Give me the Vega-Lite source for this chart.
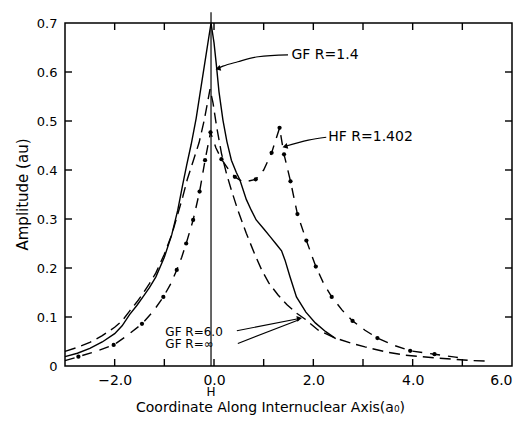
{
  "$schema": "https://vega.github.io/schema/vega-lite/v6.json",
  "width": 447,
  "height": 343,
  "autosize": "none",
  "padding": {"left": 65, "top": 23, "right": 13, "bottom": 57},
  "background": "white",
  "config": {
    "view": {"stroke": "black", "strokeWidth": 1.5},
    "axis": {"grid": false, "domain": false, "ticks": false, "labelColor": "black", "titleColor": "black", "labelFont": "DejaVu Sans", "titleFont": "DejaVu Sans", "titleFontWeight": "normal"},
    "text": {"font": "DejaVu Sans", "fontSize": 14, "color": "black"}
  },
  "datasets": {
    "gf14": [
      {"x": -3.0, "y": 0.019}, {"x": -2.75, "y": 0.026}, {"x": -2.5, "y": 0.036}, {"x": -2.25, "y": 0.049},
      {"x": -2.0, "y": 0.066}, {"x": -1.85, "y": 0.082}, {"x": -1.7, "y": 0.105}, {"x": -1.55, "y": 0.124},
      {"x": -1.43, "y": 0.141}, {"x": -1.3, "y": 0.16}, {"x": -1.17, "y": 0.182}, {"x": -1.0, "y": 0.222},
      {"x": -0.85, "y": 0.268}, {"x": -0.73, "y": 0.318}, {"x": -0.63, "y": 0.37}, {"x": -0.55, "y": 0.41},
      {"x": -0.46, "y": 0.452}, {"x": -0.36, "y": 0.505}, {"x": -0.26, "y": 0.57}, {"x": -0.16, "y": 0.635},
      {"x": -0.06, "y": 0.7}, {"x": 0.0, "y": 0.66}, {"x": 0.05, "y": 0.612}, {"x": 0.1, "y": 0.56},
      {"x": 0.18, "y": 0.502}, {"x": 0.26, "y": 0.458}, {"x": 0.35, "y": 0.42}, {"x": 0.45, "y": 0.395},
      {"x": 0.52, "y": 0.38}, {"x": 0.65, "y": 0.34}, {"x": 0.75, "y": 0.318}, {"x": 0.85, "y": 0.298},
      {"x": 1.0, "y": 0.28}, {"x": 1.13, "y": 0.264}, {"x": 1.25, "y": 0.249}, {"x": 1.36, "y": 0.235},
      {"x": 1.43, "y": 0.216}, {"x": 1.53, "y": 0.182}, {"x": 1.66, "y": 0.141}, {"x": 1.85, "y": 0.11},
      {"x": 2.04, "y": 0.088}, {"x": 2.25, "y": 0.07}, {"x": 2.45, "y": 0.056}
    ],
    "gf60": [
      {"x": -3.0, "y": 0.03}, {"x": -2.75, "y": 0.038}, {"x": -2.5, "y": 0.048}, {"x": -2.25, "y": 0.062},
      {"x": -2.0, "y": 0.079}, {"x": -1.85, "y": 0.092}, {"x": -1.7, "y": 0.112}, {"x": -1.55, "y": 0.131},
      {"x": -1.43, "y": 0.148}, {"x": -1.3, "y": 0.168}, {"x": -1.17, "y": 0.19}, {"x": -1.0, "y": 0.228},
      {"x": -0.85, "y": 0.268}, {"x": -0.73, "y": 0.31}, {"x": -0.63, "y": 0.345}, {"x": -0.54, "y": 0.38},
      {"x": -0.42, "y": 0.418}, {"x": -0.3, "y": 0.456}, {"x": -0.2, "y": 0.5}, {"x": -0.08, "y": 0.565},
      {"x": -0.02, "y": 0.537}, {"x": 0.05, "y": 0.49}, {"x": 0.15, "y": 0.434}, {"x": 0.25, "y": 0.393},
      {"x": 0.35, "y": 0.359}, {"x": 0.48, "y": 0.318}, {"x": 0.65, "y": 0.271}, {"x": 0.82, "y": 0.228},
      {"x": 0.96, "y": 0.196}, {"x": 1.1, "y": 0.17}, {"x": 1.29, "y": 0.145}, {"x": 1.47, "y": 0.125},
      {"x": 1.66, "y": 0.108}, {"x": 1.83, "y": 0.096}, {"x": 2.1, "y": 0.073}, {"x": 2.44, "y": 0.057},
      {"x": 2.75, "y": 0.047}, {"x": 3.04, "y": 0.039}, {"x": 3.45, "y": 0.029}, {"x": 3.85, "y": 0.022},
      {"x": 4.2, "y": 0.019}, {"x": 4.52, "y": 0.016}, {"x": 5.2, "y": 0.011}, {"x": 5.5, "y": 0.01}
    ],
    "hf": [
      {"x": -3.0, "y": 0.011}, {"x": -2.73, "y": 0.019}, {"x": -2.4, "y": 0.029}, {"x": -2.02, "y": 0.043},
      {"x": -1.75, "y": 0.062}, {"x": -1.45, "y": 0.086}, {"x": -1.22, "y": 0.112}, {"x": -1.02, "y": 0.141},
      {"x": -0.88, "y": 0.166}, {"x": -0.75, "y": 0.196}, {"x": -0.65, "y": 0.222}, {"x": -0.56, "y": 0.25},
      {"x": -0.42, "y": 0.298}, {"x": -0.29, "y": 0.356}, {"x": -0.18, "y": 0.42}, {"x": -0.07, "y": 0.477},
      {"x": 0.04, "y": 0.445}, {"x": 0.15, "y": 0.422}, {"x": 0.3, "y": 0.4}, {"x": 0.42, "y": 0.386},
      {"x": 0.59, "y": 0.375}, {"x": 0.84, "y": 0.381}, {"x": 1.0, "y": 0.4}, {"x": 1.16, "y": 0.435},
      {"x": 1.32, "y": 0.486}, {"x": 1.41, "y": 0.432}, {"x": 1.54, "y": 0.377}, {"x": 1.68, "y": 0.31},
      {"x": 1.86, "y": 0.256}, {"x": 2.05, "y": 0.203}, {"x": 2.2, "y": 0.17}, {"x": 2.37, "y": 0.141},
      {"x": 2.58, "y": 0.114}, {"x": 2.79, "y": 0.092}, {"x": 3.04, "y": 0.073}, {"x": 3.29, "y": 0.057},
      {"x": 3.6, "y": 0.043}, {"x": 3.95, "y": 0.031}, {"x": 4.44, "y": 0.024}, {"x": 4.86, "y": 0.018},
      {"x": 5.0, "y": 0.016}
    ],
    "hfdots": [
      {"x": -2.73, "y": 0.019}, {"x": -2.02, "y": 0.043}, {"x": -1.45, "y": 0.086}, {"x": -1.02, "y": 0.141},
      {"x": -0.75, "y": 0.196}, {"x": -0.56, "y": 0.25}, {"x": -0.42, "y": 0.298}, {"x": -0.29, "y": 0.356},
      {"x": -0.18, "y": 0.42}, {"x": -0.07, "y": 0.477}, {"x": 0.15, "y": 0.422}, {"x": 0.42, "y": 0.386},
      {"x": 0.84, "y": 0.381}, {"x": 1.16, "y": 0.435}, {"x": 1.32, "y": 0.486}, {"x": 1.41, "y": 0.432},
      {"x": 1.54, "y": 0.377}, {"x": 1.68, "y": 0.31}, {"x": 1.86, "y": 0.256}, {"x": 2.05, "y": 0.203},
      {"x": 2.37, "y": 0.141}, {"x": 2.79, "y": 0.092}, {"x": 3.29, "y": 0.057}, {"x": 3.95, "y": 0.031},
      {"x": 4.44, "y": 0.024}
    ],
    "arrows": [
      {"id": "a14", "i": 0, "x": 1.49, "y": 0.635}, {"id": "a14", "i": 1, "x": 0.89, "y": 0.631},
      {"id": "a14", "i": 2, "x": 0.48, "y": 0.621}, {"id": "a14", "i": 3, "x": 0.18, "y": 0.612},
      {"id": "a14", "i": 4, "x": 0.07, "y": 0.607},
      {"id": "ahf", "i": 0, "x": 2.26, "y": 0.467}, {"id": "ahf", "i": 1, "x": 1.9, "y": 0.461},
      {"id": "ahf", "i": 2, "x": 1.42, "y": 0.448},
      {"id": "a60", "i": 0, "x": 0.46, "y": 0.072}, {"id": "a60", "i": 1, "x": 1.72, "y": 0.097},
      {"id": "ainf", "i": 0, "x": 0.48, "y": 0.046}, {"id": "ainf", "i": 1, "x": 1.7, "y": 0.094}
    ],
    "headsLeft": [{"x": 0.08, "y": 0.607}, {"x": 1.43, "y": 0.448}],
    "headsRight": [{"x": 1.72, "y": 0.097}],
    "notes": [
      {"x": 1.56, "y": 0.635, "label": "GF R=1.4"},
      {"x": 2.3, "y": 0.467, "label": "HF R=1.402"}
    ],
    "notesSmall": [
      {"x": -0.98, "y": 0.070, "label": "GF R=6.0"},
      {"x": -0.98, "y": 0.044, "label": "GF R=∞"}
    ],
    "atom": [{"x": -0.06, "y": -0.054, "label": "H"}],
    "vline": [{"x": -0.06, "y": 0, "y2": 0.722}],
    "xticks": [{"v": -2}, {"v": -1}, {"v": 0}, {"v": 1}, {"v": 2}, {"v": 3}, {"v": 4}, {"v": 5}],
    "yticks": [{"v": 0.1}, {"v": 0.2}, {"v": 0.3}, {"v": 0.4}, {"v": 0.5}, {"v": 0.6}]
  },
  "layer": [
    {
      "data": {"name": "gf14"},
      "mark": {"type": "line", "color": "black", "strokeWidth": 1.4},
      "encoding": {
        "x": {"field": "x", "type": "quantitative", "scale": {"domain": [-3, 6], "nice": false, "zero": false},
          "axis": {"orient": "bottom", "values": [-3, -2, -1, 0, 1, 2, 3, 4, 5, 6], "ticks": false, "labelPadding": 7,
            "labelExpr": "datum.value % 2 == 0 ? format(datum.value, '.1f') : ''", "labelFontSize": 14,
            "title": "Coordinate Along Internuclear Axis(a₀)", "titleFontSize": 14, "titleX": 205, "titleY": 41, "titleBaseline": "middle"}},
        "y": {"field": "y", "type": "quantitative", "scale": {"domain": [0, 0.7], "nice": false},
          "axis": {"orient": "left", "values": [0, 0.1, 0.2, 0.3, 0.4, 0.5, 0.6, 0.7], "ticks": false, "labelPadding": 8,
            "labelExpr": "datum.value == 0 ? '0' : format(datum.value, '.1f')", "labelFontSize": 13,
            "title": "Amplitude (au)", "titleFontSize": 15, "titleX": -43, "titleY": 171, "titleBaseline": "middle", "titleAngle": -90}}
      }
    },
    {
      "data": {"name": "gf60"},
      "mark": {"type": "line", "color": "black", "strokeWidth": 1.4, "strokeDash": [11, 6]},
      "encoding": {
        "x": {"field": "x", "type": "quantitative", "axis": null},
        "y": {"field": "y", "type": "quantitative", "axis": null}
      }
    },
    {
      "data": {"name": "hf"},
      "mark": {"type": "line", "color": "black", "strokeWidth": 1.4, "strokeDash": [10, 8]},
      "encoding": {
        "x": {"field": "x", "type": "quantitative", "axis": null},
        "y": {"field": "y", "type": "quantitative", "axis": null}
      }
    },
    {
      "data": {"name": "hfdots"},
      "mark": {"type": "circle", "color": "black", "size": 18, "opacity": 1},
      "encoding": {
        "x": {"field": "x", "type": "quantitative", "axis": null},
        "y": {"field": "y", "type": "quantitative", "axis": null}
      }
    },
    {
      "data": {"name": "vline"},
      "mark": {"type": "rule", "color": "black", "strokeWidth": 1.2, "clip": false},
      "encoding": {
        "x": {"field": "x", "type": "quantitative", "axis": null},
        "y": {"field": "y", "type": "quantitative", "axis": null},
        "y2": {"field": "y2"}
      }
    },
    {
      "data": {"name": "xticks"},
      "mark": {"type": "tick", "orient": "vertical", "size": 7, "thickness": 1.4, "color": "black", "opacity": 1, "yOffset": -3.5},
      "encoding": {
        "x": {"field": "v", "type": "quantitative", "axis": null},
        "y": {"datum": 0, "type": "quantitative", "axis": null}
      }
    },
    {
      "data": {"name": "xticks"},
      "mark": {"type": "tick", "orient": "vertical", "size": 7, "thickness": 1.4, "color": "black", "opacity": 1, "yOffset": 3.5},
      "encoding": {
        "x": {"field": "v", "type": "quantitative", "axis": null},
        "y": {"datum": 0.7, "type": "quantitative", "axis": null}
      }
    },
    {
      "data": {"name": "yticks"},
      "mark": {"type": "tick", "orient": "horizontal", "size": 7, "thickness": 1.4, "color": "black", "opacity": 1, "xOffset": 3.5},
      "encoding": {
        "y": {"field": "v", "type": "quantitative", "axis": null},
        "x": {"datum": -3, "type": "quantitative", "axis": null}
      }
    },
    {
      "data": {"name": "yticks"},
      "mark": {"type": "tick", "orient": "horizontal", "size": 7, "thickness": 1.4, "color": "black", "opacity": 1, "xOffset": -3.5},
      "encoding": {
        "y": {"field": "v", "type": "quantitative", "axis": null},
        "x": {"datum": 6, "type": "quantitative", "axis": null}
      }
    },
    {
      "data": {"name": "arrows"},
      "mark": {"type": "line", "color": "black", "strokeWidth": 1.1, "interpolate": "monotone"},
      "encoding": {
        "x": {"field": "x", "type": "quantitative", "axis": null},
        "y": {"field": "y", "type": "quantitative", "axis": null},
        "detail": {"field": "id"},
        "order": {"field": "i"}
      }
    },
    {
      "data": {"name": "headsLeft"},
      "mark": {"type": "point", "shape": "triangle-left", "filled": true, "color": "black", "size": 35, "angle": 345, "opacity": 1},
      "encoding": {
        "x": {"field": "x", "type": "quantitative", "axis": null},
        "y": {"field": "y", "type": "quantitative", "axis": null}
      }
    },
    {
      "data": {"name": "headsRight"},
      "mark": {"type": "point", "shape": "triangle-right", "filled": true, "color": "black", "size": 35, "angle": 350, "opacity": 1},
      "encoding": {
        "x": {"field": "x", "type": "quantitative", "axis": null},
        "y": {"field": "y", "type": "quantitative", "axis": null}
      }
    },
    {
      "data": {"name": "notes"},
      "mark": {"type": "text", "align": "left", "baseline": "middle", "fontSize": 14, "color": "black"},
      "encoding": {
        "x": {"field": "x", "type": "quantitative", "axis": null},
        "y": {"field": "y", "type": "quantitative", "axis": null},
        "text": {"field": "label"}
      }
    },
    {
      "data": {"name": "notesSmall"},
      "mark": {"type": "text", "align": "left", "baseline": "middle", "fontSize": 12, "color": "black"},
      "encoding": {
        "x": {"field": "x", "type": "quantitative", "axis": null},
        "y": {"field": "y", "type": "quantitative", "axis": null},
        "text": {"field": "label"}
      }
    },
    {
      "data": {"name": "atom"},
      "mark": {"type": "text", "align": "center", "baseline": "middle", "fontSize": 12, "clip": false, "color": "black"},
      "encoding": {
        "x": {"field": "x", "type": "quantitative", "axis": null},
        "y": {"field": "y", "type": "quantitative", "axis": null},
        "text": {"field": "label"}
      }
    }
  ],
  "resolve": {"axis": {"x": "independent", "y": "independent"}}
}
